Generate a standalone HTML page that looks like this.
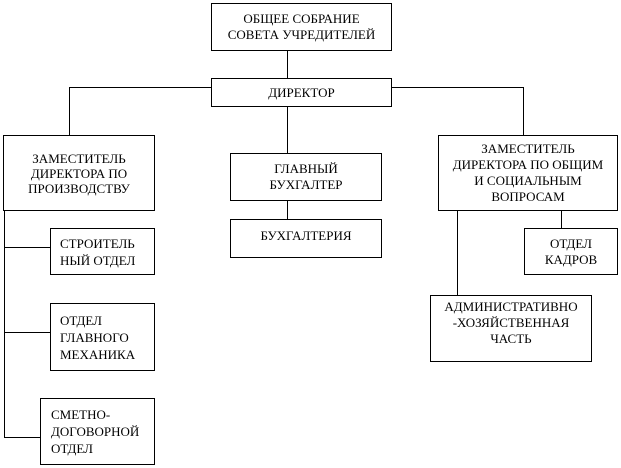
<!DOCTYPE html>
<html><head><meta charset="utf-8"><style>
body{margin:0;width:621px;height:468px;background:#fff;position:relative;overflow:hidden;font-family:"Liberation Serif","DejaVu Serif",serif;font-size:13px;color:#000}
.b{position:absolute;border:1px solid #000;box-sizing:border-box;display:flex;align-items:center;justify-content:center;text-align:center;line-height:16px}
.l{justify-content:flex-start;text-align:left;line-height:17px}
.h{position:absolute;height:1px;background:#000}
.v{position:absolute;width:1px;background:#000}
</style></head><body>
<div class="b" style="left:211px;top:3px;width:181px;height:48px">ОБЩЕЕ СОБРАНИЕ<br>СОВЕТА УЧРЕДИТЕЛЕЙ</div>
<div class="v" style="left:287px;top:50px;height:28px"></div>
<div class="b" style="left:211px;top:78px;width:181px;height:29px">ДИРЕКТОР</div>
<div class="h" style="left:69px;top:87px;width:142px"></div>
<div class="v" style="left:69px;top:87px;height:48px"></div>
<div class="h" style="left:391px;top:87px;width:132px"></div>
<div class="v" style="left:523px;top:87px;height:48px"></div>
<div class="v" style="left:287px;top:106px;height:47px"></div>
<div class="b" style="left:3px;top:135px;width:152px;height:76px;line-height:15px">ЗАМЕСТИТЕЛЬ<br>ДИРЕКТОРА ПО<br>ПРОИЗВОДСТВУ</div>
<div class="b" style="left:230px;top:153px;width:152px;height:48px">ГЛАВНЫЙ<br>БУХГАЛТЕР</div>
<div class="v" style="left:287px;top:200px;height:19px"></div>
<div class="b" style="left:230px;top:219px;width:152px;height:39px;padding-bottom:6px">БУХГАЛТЕРИЯ</div>
<div class="b" style="left:438px;top:135px;width:180px;height:76px">ЗАМЕСТИТЕЛЬ<br>ДИРЕКТОРА ПО ОБЩИМ<br>И СОЦИАЛЬНЫМ<br>ВОПРОСАМ</div>
<div class="v" style="left:457px;top:210px;height:85px"></div>
<div class="v" style="left:561px;top:210px;height:18px"></div>
<div class="b" style="left:524px;top:228px;width:94px;height:47px">ОТДЕЛ<br>КАДРОВ</div>
<div class="b" style="left:430px;top:295px;width:162px;height:67px;padding-bottom:12px">АДМИНИСТРАТИВНО<br>-ХОЗЯЙСТВЕННАЯ<br>ЧАСТЬ</div>
<div class="v" style="left:4px;top:210px;height:228px"></div>
<div class="h" style="left:4px;top:247px;width:46px"></div>
<div class="h" style="left:4px;top:332px;width:46px"></div>
<div class="h" style="left:4px;top:437px;width:36px"></div>
<div class="b l" style="left:50px;top:228px;width:105px;height:47px;padding-left:9px">СТРОИТЕЛЬ<br>НЫЙ ОТДЕЛ</div>
<div class="b l" style="left:50px;top:303px;width:105px;height:68px;padding-left:9px">ОТДЕЛ<br>ГЛАВНОГО<br>МЕХАНИКА</div>
<div class="b l" style="left:40px;top:398px;width:115px;height:67px;padding-left:10px">СМЕТНО-<br>ДОГОВОРНОЙ<br>ОТДЕЛ</div>
</body></html>
